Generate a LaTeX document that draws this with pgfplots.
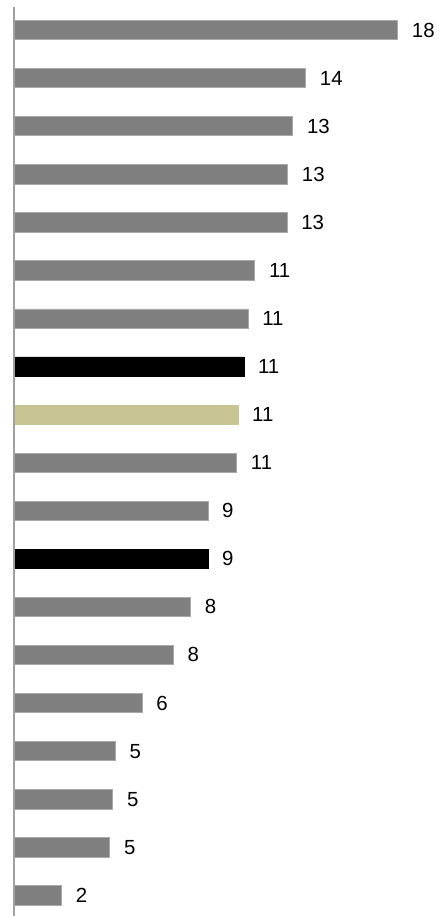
\documentclass[border=0pt]{standalone}
\usepackage{fontspec}
\setmainfont{Liberation Sans}
\usepackage{pgfplots}
\pgfplotsset{compat=1.18}
\definecolor{bargray}{RGB}{127,127,127}
\definecolor{baredge}{RGB}{170,170,170}
\definecolor{khaki}{RGB}{201,196,147}
\definecolor{axisgray}{RGB}{160,160,160}
\begin{document}
\begin{tikzpicture}
\begin{axis}[
  scale only axis, width=439bp, height=916bp,
  xmin=-0.6635, xmax=20.142, ymin=-0.624, ymax=18.43, y dir=reverse,
  hide axis,
  mybar/.style={xbar, bar shift=0pt, bar width=0.4,
    point meta=explicit symbolic, nodes near coords,
    every node near coord/.append style={anchor=west, inner sep=0pt, xshift=14bp,
      font=\fontsize{20.5}{24}\selectfont, text=black}},
]
\path (rel axis cs:0,0) rectangle (rel axis cs:1,1);
\addplot[mybar, fill=bargray, draw=baredge, line width=0.6bp] coordinates {
(18.18,0) [18]
(13.82,1) [14]
(13.21,2) [13]
(12.97,3) [13]
(12.94,4) [13]
(11.41,5) [11]
(11.09,6) [11]
(10.55,9) [11]
(9.19,10) [9]
(8.37,12) [8]
(7.55,13) [8]
(6.07,14) [6]
(4.80,15) [5]
(4.68,16) [5]
(4.54,17) [5]
(2.26,18) [2]
};
\addplot[mybar, fill=black, draw=black, line width=0.3bp] coordinates {
(10.90,7) [11]
(9.19,11) [9]
};
\addplot[mybar, fill=khaki, draw=khaki, line width=0.3bp] coordinates {
(10.62,8) [11]
};
\addplot[sharp plot, no marks, draw=axisgray, line width=1.8bp] coordinates {(0,-0.48) (0,18.6)};
\end{axis}
\end{tikzpicture}
\end{document}
